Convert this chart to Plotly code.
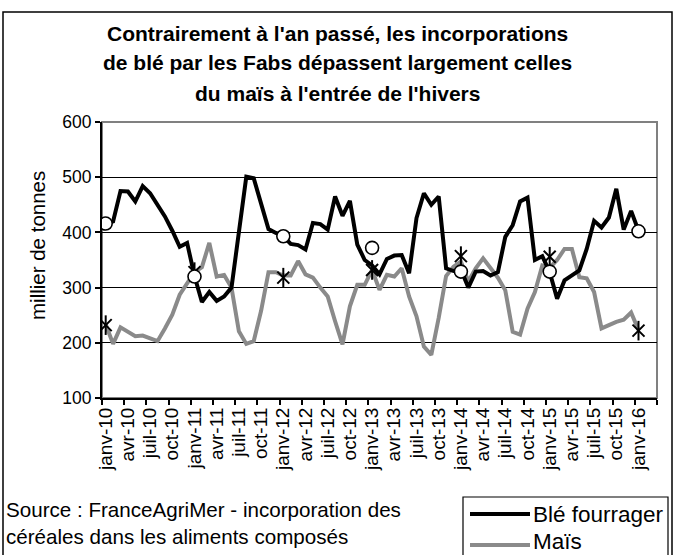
import plotly.graph_objects as go

# ---------------- data ----------------
mois_noms = ["janv", "févr", "mars", "avr", "mai", "juin",
             "juil", "août", "sept", "oct", "nov", "déc"]
annees = ["10", "11", "12", "13", "14", "15", "16"]
mois = [f"{m}-{a}" for a in annees for m in mois_noms][:73]   # janv-10 .. janv-16

ble = [416, 420, 475, 474, 456, 484, 471, 451, 429, 403, 374, 381,
       321, 274, 292, 276, 284, 300, 403, 501, 498, 451, 406, 399,
       393, 379, 377, 369, 417, 415, 405, 465, 430, 457, 378, 350,
       340, 324, 352, 358, 359, 326, 426, 471, 450, 465, 335, 330,
       333, 300, 329, 330, 322, 328, 392, 413, 456, 463, 350, 357,
       328, 280, 313, 322, 331, 370, 421, 409, 427, 479, 405, 439,
       403]

mais = [233, 198, 228, 221, 212, 213, 208, 203, 226, 251, 287, 308,
        328, 337, 381, 320, 323, 300, 221, 198, 203, 258, 328, 328,
        322, 322, 348, 324, 318, 300, 284, 239, 197, 266, 305, 305,
        332, 296, 323, 320, 335, 284, 248, 193, 178, 245, 321, 338,
        347, 311, 335, 353, 335, 318, 295, 220, 215, 262, 292, 340,
        336, 350, 370, 370, 319, 317, 292, 226, 232, 238, 242, 255,
        223]

janv_labels = ["janv-10", "janv-11", "janv-12", "janv-13", "janv-14", "janv-15", "janv-16"]
ble_janv = [416, 320, 393, 372, 329, 329, 402]
mais_janv = [232, 328, 318, 332, 357, 356, 222]

tick_labels = [m for m in mois if m.split("-")[0] in ("janv", "avr", "juil", "oct")]

# ---------------- figure ----------------
idx = list(range(len(mois)))
tick_idx = [mois.index(t) for t in tick_labels]
janv_idx = [mois.index(t) for t in janv_labels]

FONT = "Liberation Sans, Arial, sans-serif"
GREY = "#8a8a8a"

fig = go.Figure()
fig.add_trace(go.Scatter(x=idx, y=mais, mode="lines", name="Maïs",
                         line=dict(color=GREY, width=4), showlegend=False))
fig.add_trace(go.Scatter(x=idx, y=ble, mode="lines", name="Blé fourrager",
                         line=dict(color="black", width=4), showlegend=False))
# Maïs january markers (asterisk: X + vertical bar)
fig.add_trace(go.Scatter(x=janv_idx, y=mais_janv, mode="markers", showlegend=False,
                         marker=dict(symbol="x-thin-open", size=12, color="black",
                                     line=dict(color="black", width=2))))
fig.add_trace(go.Scatter(x=janv_idx, y=mais_janv, mode="markers", showlegend=False,
                         marker=dict(symbol="line-ns-open", size=14, color="black",
                                     line=dict(color="black", width=2))))
# Blé january markers (open circle)
fig.add_trace(go.Scatter(x=janv_idx, y=ble_janv, mode="markers", showlegend=False,
                         marker=dict(symbol="circle", size=13, color="white",
                                     line=dict(color="black", width=1.6))))

W, H = 675, 555
L, T = 102, 122
R = W - 657
B = H - 398
PW, PH = W - L - R, H - T - B


def xp(px):
    return (px - L) / PW


def yp(py):
    return 1 - (py - T) / PH


shapes = [
    # plot area frame (grey)
    dict(type="rect", xref="paper", yref="paper", x0=0, x1=1, y0=0, y1=1,
         line=dict(color="#808080", width=2), layer="below"),
    # chart outer border
    dict(type="rect", xref="paper", yref="paper", x0=xp(3), x1=xp(672),
         y0=yp(570), y1=yp(12), line=dict(color="black", width=1.5)),
    # legend box
    dict(type="rect", xref="paper", yref="paper", x0=xp(463), x1=xp(668),
         y0=yp(570), y1=yp(497), line=dict(color="black", width=1.2)),
    # legend samples
    dict(type="line", xref="paper", yref="paper", x0=xp(470), x1=xp(530),
         y0=yp(514), y1=yp(514), line=dict(color="black", width=4)),
    dict(type="line", xref="paper", yref="paper", x0=xp(470), x1=xp(530),
         y0=yp(545), y1=yp(545), line=dict(color=GREY, width=4)),
]

title_lines = ["Contrairement à l'an passé, les incorporations",
               "de blé par les Fabs dépassent largement celles",
               "du maïs à l'entrée de l'hivers"]
annotations = []
for k, line in enumerate(title_lines):
    annotations.append(dict(text=f"<b>{line}</b>", xref="paper", yref="paper",
                            x=xp(337), y=yp(33 + 30 * k), xanchor="center", yanchor="middle",
                            showarrow=False, font=dict(family=FONT, size=21, color="black")))
annotations += [
    dict(text="millier de tonnes", xref="paper", yref="paper", x=xp(37), y=yp(246),
         textangle=-90, xanchor="center", yanchor="middle", showarrow=False,
         font=dict(family=FONT, size=20.5, color="black")),
    dict(text="Source : FranceAgriMer - incorporation des", xref="paper", yref="paper",
         x=xp(4), y=yp(509), xanchor="left", yanchor="middle", showarrow=False,
         font=dict(family=FONT, size=20.6, color="black")),
    dict(text="céréales dans les aliments composés", xref="paper", yref="paper",
         x=xp(4), y=yp(536), xanchor="left", yanchor="middle", showarrow=False,
         font=dict(family=FONT, size=20.6, color="black")),
    dict(text="Blé fourrager", xref="paper", yref="paper", x=xp(531), y=yp(514),
         xanchor="left", yanchor="middle", showarrow=False,
         font=dict(family=FONT, size=22.5, color="black")),
    dict(text="Maïs", xref="paper", yref="paper", x=xp(531), y=yp(541),
         xanchor="left", yanchor="middle", showarrow=False,
         font=dict(family=FONT, size=22.5, color="black")),
]

fig.update_layout(
    width=W, height=H,
    margin=dict(l=L, r=R, t=T, b=B, pad=0),
    paper_bgcolor="white", plot_bgcolor="white",
    font=dict(family=FONT, color="black"),
    shapes=shapes, annotations=annotations,
    xaxis=dict(range=[-0.5, 74.5], tickmode="array", tickvals=tick_idx, ticktext=tick_labels,
               tickangle=-90, ticks="", showgrid=False, zeroline=False,
               showline=True, linecolor="black", linewidth=2,
               tickfont=dict(family=FONT, size=19, color="black"),
               minor=dict(tickmode="linear", tick0=-0.5, dtick=3, ticks="outside",
                          ticklen=5, tickwidth=1.5, tickcolor="black", showgrid=False)),
    yaxis=dict(range=[100, 600], tickmode="linear", tick0=100, dtick=100,
               ticks="outside", ticklen=5, tickwidth=1.5, tickcolor="black",
               showgrid=True, gridcolor="black", gridwidth=1, zeroline=False,
               showline=True, linecolor="black", linewidth=2,
               tickfont=dict(family=FONT, size=17.5, color="black")),
)

fig.write_html("out.html", config={"displayModeBar": False},
               post_script="document.body.style.margin='0px';document.body.style.padding='0px';")
